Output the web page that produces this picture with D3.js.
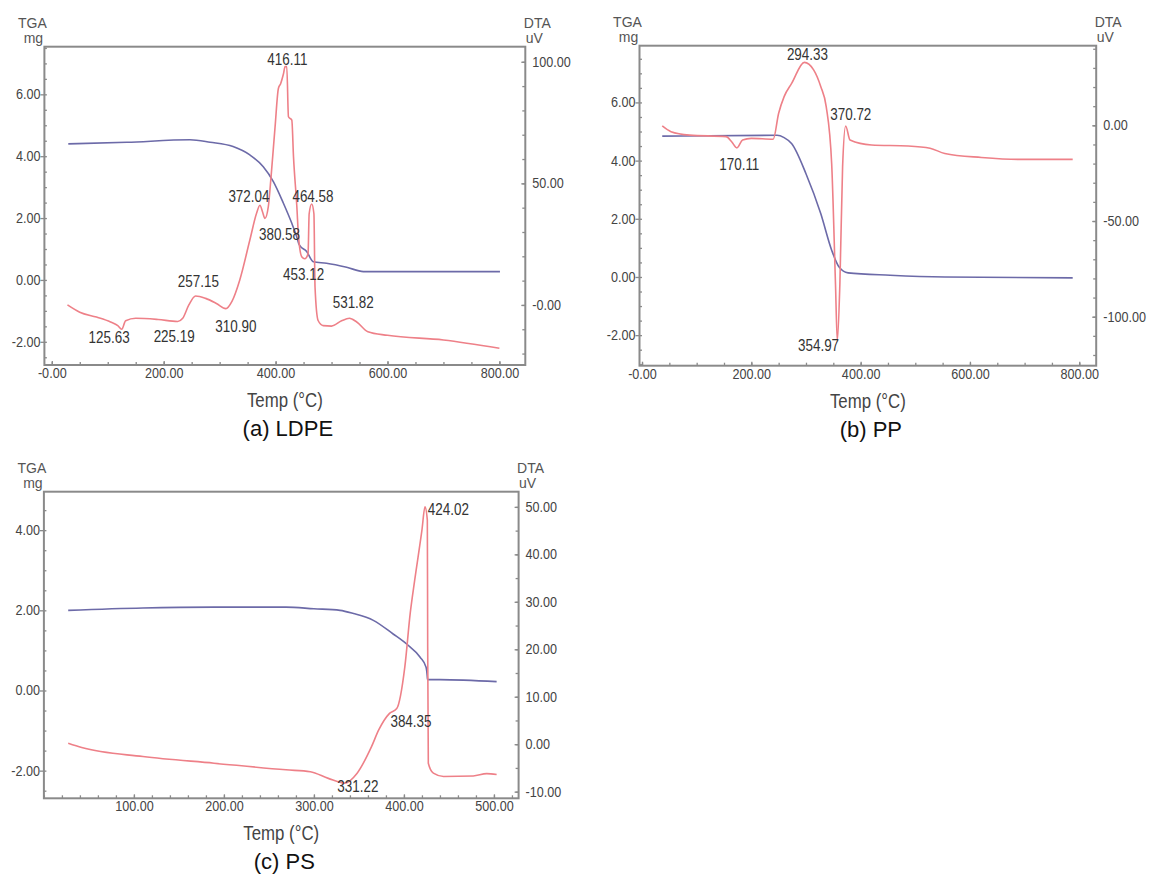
<!DOCTYPE html>
<html>
<head>
<meta charset="utf-8">
<script src="https://cdn.jsdelivr.net/npm/d3@7"></script>
<style>
  body { margin: 0; background: #fff; }
</style>
</head>
<body>
<svg id="chart" width="1152" height="876"></svg>
<script>
// ---- data (temp °C, value) ----
const ldpeDTA = [[28,0],[50,-3],[80,-5],[105,-7],[118,-8.5],[125,-10],[132,-6.5],[150,-5.5],[190,-6],
  [225,-6.8],[234,-5.5],[245,0],[257,3.7],[275,2.7],[295,0.5],[311,-1.5],[322,1.5],[336,10.3],[354,26.7],
  [366,37.7],[372,41],[377,38],[381,35.6],[387,40.4],[392,53],[399,73],[405,89],[409,91],[414,95],
  [417,98],[420,98],[423,77.4],[429,76],[432,61],[438,40.4],[441,28],[447,19.7],[452,19],[458,21],
  [460,37.5],[464.5,41.5],[468.5,37.5],[470.5,7.3],[476,-6.4],[485,-8.5],[500,-8.7],[518,-6.5],
  [532,-5.5],[545,-7],[565,-11],[600,-12.5],[700,-14.4],[800,-17.8]];
const ldpeTGA = [[29.5,4.4],[134,4.45],[247,4.53],[283,4.45],[324,4.31],[354,4.04],[378,3.66],[396,3.18],
  [414,2.48],[429,1.83],[437.7,1.4],[442.4,1.13],[455.5,0.92],[467.4,0.59],[491,0.54],[527,0.41],
  [557,0.27],[801,0.27]];

const ppDTA = [[37,-0.35],[53,-3.3],[87,-5.1],[154,-5.9],[164,-8.6],[173.6,-11.8],[184,-7.7],[200,-6.8],
  [240,-7.3],[250,6.3],[260,15],[274,22],[297,32.9],[314,29],[327,20.3],[337,9.8],[347,-20],[354,-83],
  [357.3,-112.6],[362,-83],[367,-21.7],[372.6,-0.35],[380.6,-7.7],[420,-10.3],[487,-10.8],[527,-12],
  [554,-14.7],[621,-16.8],[688,-17.8],[788,-17.8]];
const ppTGA = [[37,4.84],[247,4.87],[260,4.79],[274,4.58],[300,3.55],[327,2.18],[347,0.92],[360.6,0.34],
  [377,0.14],[454,0.06],[554,0],[788,-0.03]];

const psDTA = [[27,0.2],[42,-0.7],[110,-2.6],[189,-4],[269,-5.4],[296,-5.8],[316,-7.2],[334,-8.2],
  [348,-6.1],[364,-0.5],[372,3],[384,6.5],[392,7.5],[401,16.3],[407,27.6],[412,34.6],[420,45.1],
  [423.4,50],[426,47.2],[426.4,20.5],[427.1,-4],[432.7,-6.1],[444,-6.8],[477,-6.7],[492,-6.2],[503,-6.4]];
const psTGA = [[27,2],[110,2.06],[189,2.08],[269,2.08],[300,2.04],[329,2],[344,1.92],[366,1.75],
  [388,1.41],[403,1.16],[418,0.83],[424.6,0.58],[426,0.33],[426.2,0.27],[440,0.27],[503,0.22]];

// peak labels: text, temp, DTA value at the label's anchor
const ldpePeakText = ['416.11','372.04','464.58','380.58','453.12','257.15','531.82','310.90','225.19','125.63'];
const ldpePeakT    = [421, 352.4, 466.8, 407, 450, 262, 538.8, 329, 218.8, 102.5];
const ldpePeakD    = [98.6, 42.5, 42.5, 26.7, 10.3, 7.5, -1.4, -11, -15.1, -15.8];

const ppPeakText = ['294.33','370.72','170.11','354.97'];
const ppPeakT    = [302.7, 382, 178, 323];
const ppPeakD    = [34.3, 2.8, -23.4, -117.8];

const psPeakText = ['424.02','384.35','331.22'];
const psPeakT    = [426.6, 385, 326];
const psPeakD    = [48.2, 3.7, -10];

// ticks
const tempTicks800 = [0, 200, 400, 600, 800];
const tempLabels800 = ['-0.00', '200.00', '400.00', '600.00', '800.00'];
const tempTicks500 = [100, 200, 300, 400, 500];
const tempLabels500 = ['100.00', '200.00', '300.00', '400.00', '500.00'];
const tgaTicks6 = [-2, 0, 2, 4, 6];
const tgaLabels6 = ['-2.00', '0.00', '2.00', '4.00', '6.00'];
const tgaTicks4 = [-2, 0, 2, 4];
const tgaLabels4 = ['-2.00', '0.00', '2.00', '4.00'];
const ldpeDtaTicks = [0, 50, 100];
const ldpeDtaLabels = ['-0.00', '50.00', '100.00'];
const ppDtaTicks = [-100, -50, 0];
const ppDtaLabels = ['-100.00', '-50.00', '0.00'];
const psDtaTicks = [-10, 0, 10, 20, 30, 40, 50];
const psDtaLabels = ['-10.00', '0.00', '10.00', '20.00', '30.00', '40.00', '50.00'];

const FONT = '"Liberation Sans", Arial, sans-serif';
const FRAME = '#8a8a8a';
const RED = '#ee8088';
const BLUE = '#6c6aa8';

const svg = d3.select('#chart');

function minorTicks(dom, step) {
  return d3.range(Math.ceil(dom[0] / step) * step, dom[1] + 1e-9, step);
}

// condense text horizontally to mimic the narrow face of the reference
function narrow(sel, k) {
  sel.each(function () {
    const w = this.getComputedTextLength();
    if (w > 0) {
      d3.select(this).attr('textLength', w * k).attr('lengthAdjust', 'spacingAndGlyphs');
    }
  });
}

function styleAxis(sel) {
  sel.select('.domain').remove();
  sel.attr('font-family', null).attr('font-size', null);
  sel.selectAll('line').attr('stroke', FRAME).attr('stroke-width', 1.3);
  sel.selectAll('text')
    .style('font-family', FONT)
    .style('font-size', '14px')
    .attr('fill', '#444')
    .call(narrow, 0.9);
}

function drawPanel(cfg) {
  const b = cfg.box;
  const x = d3.scaleLinear().domain(cfg.tempDomain).range([b.left, b.right]);
  const yL = d3.scaleLinear().domain(cfg.tgaDomain).range([b.bottom, b.top]);
  const yR = d3.scaleLinear().domain(cfg.dtaDomain).range([b.bottom, b.top]);
  const g = svg.append('g');

  // minor ticks (inside)
  g.append('g').attr('transform', `translate(0,${b.bottom})`)
    .call(d3.axisBottom(x).tickValues(minorTicks(cfg.tempDomain, cfg.xMinor)).tickSize(-3).tickFormat(''))
    .call(styleAxis);
  g.append('g').attr('transform', `translate(${b.left},0)`)
    .call(d3.axisLeft(yL).tickValues(minorTicks(cfg.tgaDomain, 0.5)).tickSize(-2.5).tickFormat(''))
    .call(styleAxis);
  g.append('g').attr('transform', `translate(${b.right},0)`)
    .call(d3.axisRight(yR).tickValues(minorTicks(cfg.dtaDomain, cfg.dtaMinor)).tickSize(-3).tickFormat(''))
    .call(styleAxis);

  // major ticks + labels
  g.append('g').attr('transform', `translate(0,${b.bottom})`)
    .call(d3.axisBottom(x).tickValues(cfg.xTicks).tickFormat((d, i) => cfg.xLabels[i])
      .tickSize(-4).tickPadding(3))
    .call(styleAxis);
  g.append('g').attr('transform', `translate(${b.left},0)`)
    .call(d3.axisLeft(yL).tickValues(cfg.tgaTicks).tickFormat((d, i) => cfg.tgaLabels[i])
      .tickSize(4).tickPadding(0))
    .call(styleAxis);
  g.append('g').attr('transform', `translate(${b.right},0)`)
    .call(d3.axisRight(yR).tickValues(cfg.dtaTicks).tickFormat((d, i) => cfg.dtaLabels[i])
      .tickSize(-4).tickPadding(7))
    .call(styleAxis);

  // frame
  g.append('rect')
    .attr('x', b.left).attr('y', b.top)
    .attr('width', b.right - b.left).attr('height', b.bottom - b.top)
    .attr('fill', 'none').attr('stroke', FRAME).attr('stroke-width', 2);

  // curves
  const dtaLine = d3.line().x(d => x(d[0])).y(d => yR(d[1])).curve(d3.curveMonotoneX);
  const tgaLine = d3.line().x(d => x(d[0])).y(d => yL(d[1])).curve(d3.curveMonotoneX);
  g.append('path').datum(cfg.tga).attr('d', tgaLine)
    .attr('fill', 'none').attr('stroke', BLUE).attr('stroke-width', 1.6);
  g.append('path').datum(cfg.dta).attr('d', dtaLine)
    .attr('fill', 'none').attr('stroke', RED).attr('stroke-width', 1.6);

  // peak labels
  g.selectAll('text.peak').data(cfg.peakText).enter().append('text')
    .attr('class', 'peak')
    .attr('x', (d, i) => x(cfg.peakT[i]))
    .attr('y', (d, i) => yR(cfg.peakD[i]))
    .attr('text-anchor', cfg.peakAnchor)
    .style('font-family', FONT).style('font-size', '16px')
    .attr('fill', '#333')
    .text(d => d)
    .call(narrow, 0.84);

  // axis unit labels
  const unit = (tx, ty, s) => g.append('text')
    .attr('x', tx).attr('y', ty).attr('text-anchor', 'middle')
    .style('font-family', FONT).style('font-size', '14px')
    .attr('fill', '#555').text(s);
  unit(b.left - 12, b.top - 19, 'TGA');
  unit(b.left - 11, b.top - 4, 'mg');
  unit(b.right + 12, b.top - 19, 'DTA');
  unit(b.right + 9, b.top - 4, 'uV');

  const cx = (b.left + b.right) / 2;
  g.append('text').attr('x', cx).attr('y', b.bottom + 42).attr('text-anchor', 'middle')
    .style('font-family', FONT).style('font-size', '20px').attr('fill', '#444')
    .text('Temp (°C)')
    .call(narrow, 0.84);
  g.append('text').attr('x', cx + 3).attr('y', b.bottom + 71).attr('text-anchor', 'middle')
    .style('font-family', FONT).style('font-size', '22px').attr('fill', '#111')
    .text(cfg.title);
}

drawPanel({
  box: { left: 44.4, right: 525.3, top: 46.7, bottom: 365 },
  tempDomain: [-13.2, 846.3], tgaDomain: [-2.75, 7.54], dtaDomain: [-24.7, 106.2],
  xTicks: tempTicks800, xLabels: tempLabels800, xMinor: 50,
  tgaTicks: tgaTicks6, tgaLabels: tgaLabels6,
  dtaTicks: ldpeDtaTicks, dtaLabels: ldpeDtaLabels, dtaMinor: 10,
  dta: ldpeDTA, tga: ldpeTGA,
  peakText: ldpePeakText, peakT: ldpePeakT, peakD: ldpePeakD, peakAnchor: 'middle',
  title: '(a) LDPE'
});

drawPanel({
  box: { left: 639.5, right: 1096.2, top: 45.7, bottom: 365.7 },
  tempDomain: [-4.6, 831], tgaDomain: [-3.05, 7.95], dtaDomain: [-125.6, 41.6],
  xTicks: tempTicks800, xLabels: tempLabels800, xMinor: 50,
  tgaTicks: tgaTicks6, tgaLabels: tgaLabels6,
  dtaTicks: ppDtaTicks, dtaLabels: ppDtaLabels, dtaMinor: 10,
  dta: ppDTA, tga: ppTGA,
  peakText: ppPeakText, peakT: ppPeakT, peakD: ppPeakD, peakAnchor: 'middle',
  title: '(b) PP'
});

drawPanel({
  box: { left: 43.9, right: 518.6, top: 491.7, bottom: 798.3 },
  tempDomain: [0, 527.4], tgaDomain: [-2.69, 4.96], dtaDomain: [-11.4, 53.2],
  xTicks: tempTicks500, xLabels: tempLabels500, xMinor: 20,
  tgaTicks: tgaTicks4, tgaLabels: tgaLabels4,
  dtaTicks: psDtaTicks, dtaLabels: psDtaLabels, dtaMinor: 5,
  dta: psDTA, tga: psTGA,
  peakText: psPeakText, peakT: psPeakT, peakD: psPeakD, peakAnchor: 'start',
  title: '(c) PS'
});
</script>
</body>
</html>
